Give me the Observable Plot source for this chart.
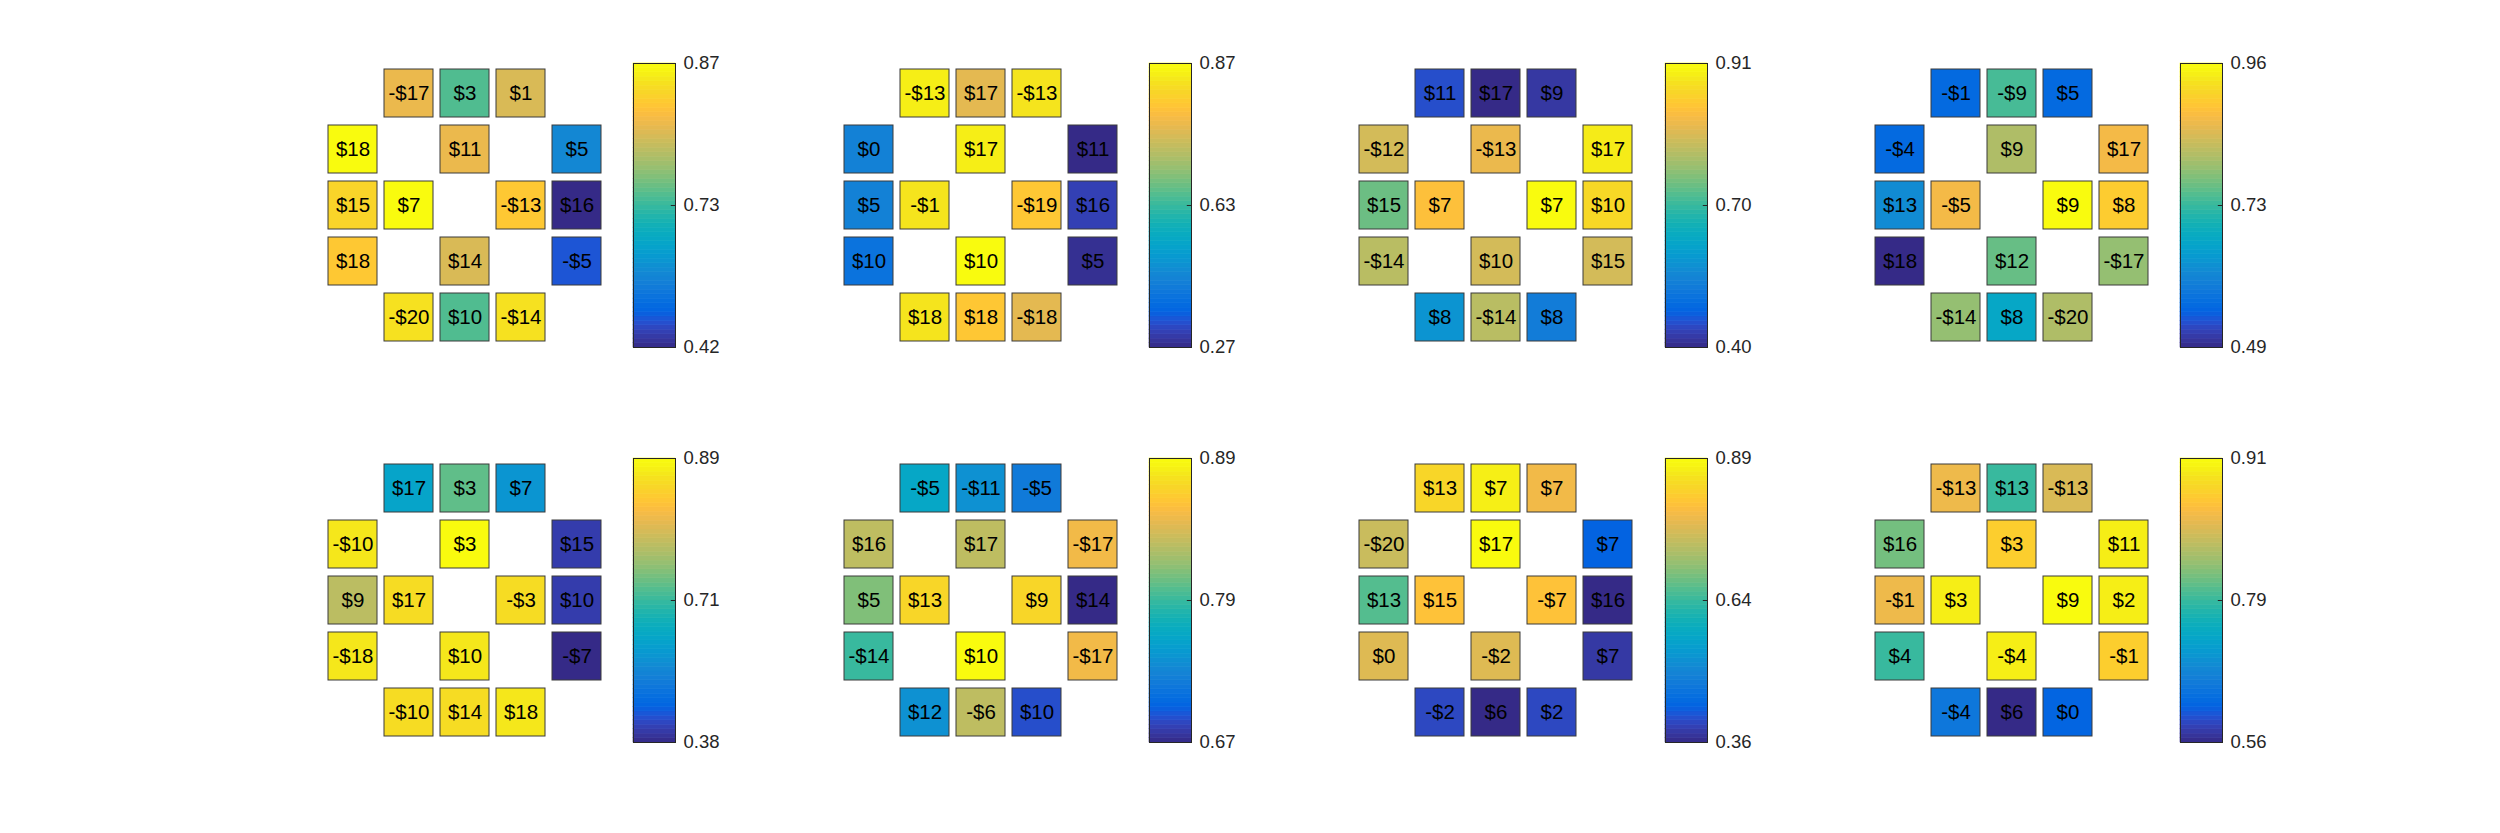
<!DOCTYPE html>
<html><head><meta charset="utf-8">
<script src="https://cdn.jsdelivr.net/npm/d3@7"></script>
<script src="https://cdn.jsdelivr.net/npm/@observablehq/plot@0.6"></script>
<style>
html,body{margin:0;padding:0;background:#fff;}
#root{position:relative;width:2500px;height:833px;background:#fff;overflow:hidden;}
#root svg{position:absolute;overflow:visible;}
</style></head><body><div id="root"></div>
<script>
// Cell positions (grid row / column, shared by every panel)
const gridRows = [1,1,1,2,2,2,3,3,3,3,4,4,4,5,5,5];
const gridCols = [2,3,4,1,3,5,1,2,4,5,1,3,5,2,3,4];

// Panel 1
const labels1 = ["-$17","$3","$1","$18","$11","$5","$15","$7","-$13","$16","$18","$14","-$5","-$20","$10","-$14"];
const values1 = [0.81,0.74,0.80,0.87,0.81,0.58,0.84,0.87,0.83,0.42,0.83,0.80,0.48,0.85,0.74,0.85];
const ticks1 = [0.42,0.73,0.87];
// Panel 2
const labels2 = ["-$13","$17","-$13","$0","$17","$11","$5","-$1","-$19","$16","$10","$10","$5","$18","$18","-$18"];
const values2 = [0.85,0.76,0.84,0.44,0.85,0.27,0.44,0.84,0.80,0.31,0.40,0.87,0.28,0.84,0.80,0.76];
const ticks2 = [0.27,0.63,0.87];
// Panel 3
const labels3 = ["$11","$17","$9","-$12","-$13","$17","$15","$7","$7","$10","-$14","$10","$15","$8","-$14","$8"];
const values3 = [0.45,0.40,0.42,0.80,0.82,0.89,0.73,0.84,0.91,0.87,0.78,0.80,0.80,0.58,0.78,0.53];
const ticks3 = [0.40,0.70,0.91];
// Panel 4
const labels4 = ["-$1","-$9","$5","-$4","$9","$17","$13","-$5","$9","$8","$18","$12","-$17","-$14","$8","-$20"];
const values4 = [0.56,0.74,0.56,0.56,0.81,0.87,0.62,0.87,0.96,0.90,0.49,0.76,0.79,0.79,0.67,0.81];
const ticks4 = [0.49,0.73,0.96];
// Panel 5
const labels5 = ["$17","$3","$7","-$10","$3","$15","$9","$17","-$3","$10","-$18","$10","-$7","-$10","$14","$18"];
const values5 = [0.62,0.73,0.58,0.87,0.89,0.41,0.78,0.86,0.86,0.41,0.87,0.87,0.38,0.86,0.86,0.87];
const ticks5 = [0.38,0.71,0.89];
// Panel 6
const labels6 = ["-$5","-$11","-$5","$16","$17","-$17","$5","$13","$9","$14","-$14","$10","-$17","$12","-$6","$10"];
const values6 = [0.76,0.74,0.72,0.83,0.83,0.85,0.81,0.87,0.87,0.67,0.79,0.89,0.85,0.74,0.83,0.69];
const ticks6 = [0.67,0.79,0.89];
// Panel 7
const labels7 = ["$13","$7","$7","-$20","$17","$7","$13","$15","-$7","$16","$0","-$2","$7","-$2","$6","$2"];
const values7 = [0.84,0.87,0.79,0.75,0.89,0.43,0.66,0.81,0.81,0.36,0.77,0.77,0.38,0.40,0.36,0.40];
const ticks7 = [0.36,0.64,0.89];
// Panel 8
const labels8 = ["-$13","$13","-$13","$16","$3","$11","-$1","$3","$9","$2","$4","-$4","-$1","-$4","$6","$0"];
const values8 = [0.86,0.79,0.85,0.81,0.88,0.90,0.86,0.90,0.91,0.90,0.79,0.90,0.88,0.65,0.56,0.62];
const ticks8 = [0.56,0.79,0.91];

const panels = [
  [labels1, values1, ticks1], [labels2, values2, ticks2], [labels3, values3, ticks3], [labels4, values4, ticks4],
  [labels5, values5, ticks5], [labels6, values6, ticks6], [labels7, values7, ticks7], [labels8, values8, ticks8]
];

// parula colormap stops
const parulaStops = [
  [0.2081,0.1663,0.5292],[0.2123,0.2138,0.6270],[0.1959,0.2645,0.7279],[0.1253,0.3242,0.8303],
  [0.0117,0.3875,0.8820],[0.0165,0.4266,0.8786],[0.0498,0.4586,0.8641],[0.0723,0.4887,0.8467],
  [0.0793,0.5200,0.8312],[0.0641,0.5570,0.8240],[0.0343,0.5966,0.8199],[0.0239,0.6287,0.8038],
  [0.0228,0.6535,0.7768],[0.0384,0.6743,0.7436],[0.0843,0.6928,0.7062],[0.1453,0.7098,0.6646],
  [0.2178,0.7250,0.6193],[0.3022,0.7376,0.5712],[0.3953,0.7459,0.5244],[0.4871,0.7491,0.4840],
  [0.5709,0.7485,0.4494],[0.6473,0.7456,0.4188],[0.7184,0.7411,0.3905],[0.7858,0.7356,0.3633],
  [0.8507,0.7299,0.3360],[0.9139,0.7258,0.3063],[0.9739,0.7314,0.2666],[0.9990,0.7653,0.2164],
  [0.9880,0.8066,0.1794],[0.9697,0.8481,0.1475],[0.9589,0.8949,0.1132],[0.9661,0.9514,0.0755],
  [0.9763,0.9831,0.0538]
].map(([r,g,b]) => d3.rgb(r*255,g*255,b*255).formatHex());
const parula = d3.piecewise(d3.interpolateRgb, parulaStops);

const root = document.getElementById("root");
const FONT = "'Liberation Sans', Arial, Helvetica, sans-serif";
const GW = 273, GH = 276, M = 3;
const BW = 42, BH = 284;

panels.forEach(([labels, values, ticks], k) => {
  const col = k % 4, row = Math.floor(k / 4);
  const gx = 328 + 515.7 * col, gy = 66.7 + 395 * row;
  const bx = 633.3 + 515.7 * col, by = 63.3 + 395 * row;
  const data = labels.map((label, i) => ({r: gridRows[i], c: gridCols[i], label, v: values[i]}));
  const colorOpt = {type: "linear", domain: ticks, interpolate: t => parula(t)};

  const grid = Plot.plot({
    width: GW + 2*M, height: GH + 2*M,
    marginTop: M, marginBottom: M, marginLeft: M, marginRight: M,
    style: {fontFamily: FONT, background: "transparent", overflow: "visible"},
    x: {type: "band", domain: [1,2,3,4,5], paddingInner: 0.125, paddingOuter: 0, axis: null},
    y: {type: "band", domain: [1,2,3,4,5], paddingInner: 0.1366, paddingOuter: 0, axis: null},
    color: colorOpt,
    marks: [
      Plot.cell(data, {x: "c", y: "r", fill: "v", stroke: "#3a3a3a", strokeWidth: 1, inset: 0}),
      Plot.text(data, {x: "c", y: "r", text: "label", fill: "#000", fontSize: 20.5})
    ]
  });
  grid.style.left = (gx - M) + "px";
  grid.style.top = (gy - M) + "px";
  root.appendChild(grid);

  // colorbar: position along the bar (0..1) -> tick value, piecewise through the middle tick
  const toValue = d3.scaleLinear().domain([0, 0.5, 1]).range(ticks);
  const N = 64;
  const slices = d3.range(N).map(i => ({y1: i / N, y2: (i + 1) / N, v: toValue((i + 0.5) / N)}));
  const T = 14;
  const bar = Plot.plot({
    width: BW + 90, height: BH + 2*T,
    marginTop: T, marginBottom: T, marginLeft: 0, marginRight: 90,
    style: {fontFamily: FONT, background: "transparent", overflow: "visible"},
    x: {domain: [0, 1], axis: null},
    y: {domain: [0, 1], axis: null},
    color: colorOpt,
    marks: [
      Plot.rect(slices, {x1: 0, x2: 1, y1: "y1", y2: "y2", fill: "v", stroke: "v", strokeWidth: 0.6, inset: 0}),
      Plot.ruleY([0.5], {x1: 0.9, x2: 1, stroke: "#262626"}),
      Plot.frame({stroke: "#262626", strokeWidth: 1}),
      Plot.axisY([0, 0.5, 1], {anchor: "right", tickSize: 0, tickPadding: 8, tickFormat: (d, i) => d3.format(".2f")(ticks[i]), fontSize: 18.5, color: "#262626", label: null})
    ]
  });
  bar.style.left = bx + "px";
  bar.style.top = (by - T) + "px";
  root.appendChild(bar);
});
</script>
</body></html>
